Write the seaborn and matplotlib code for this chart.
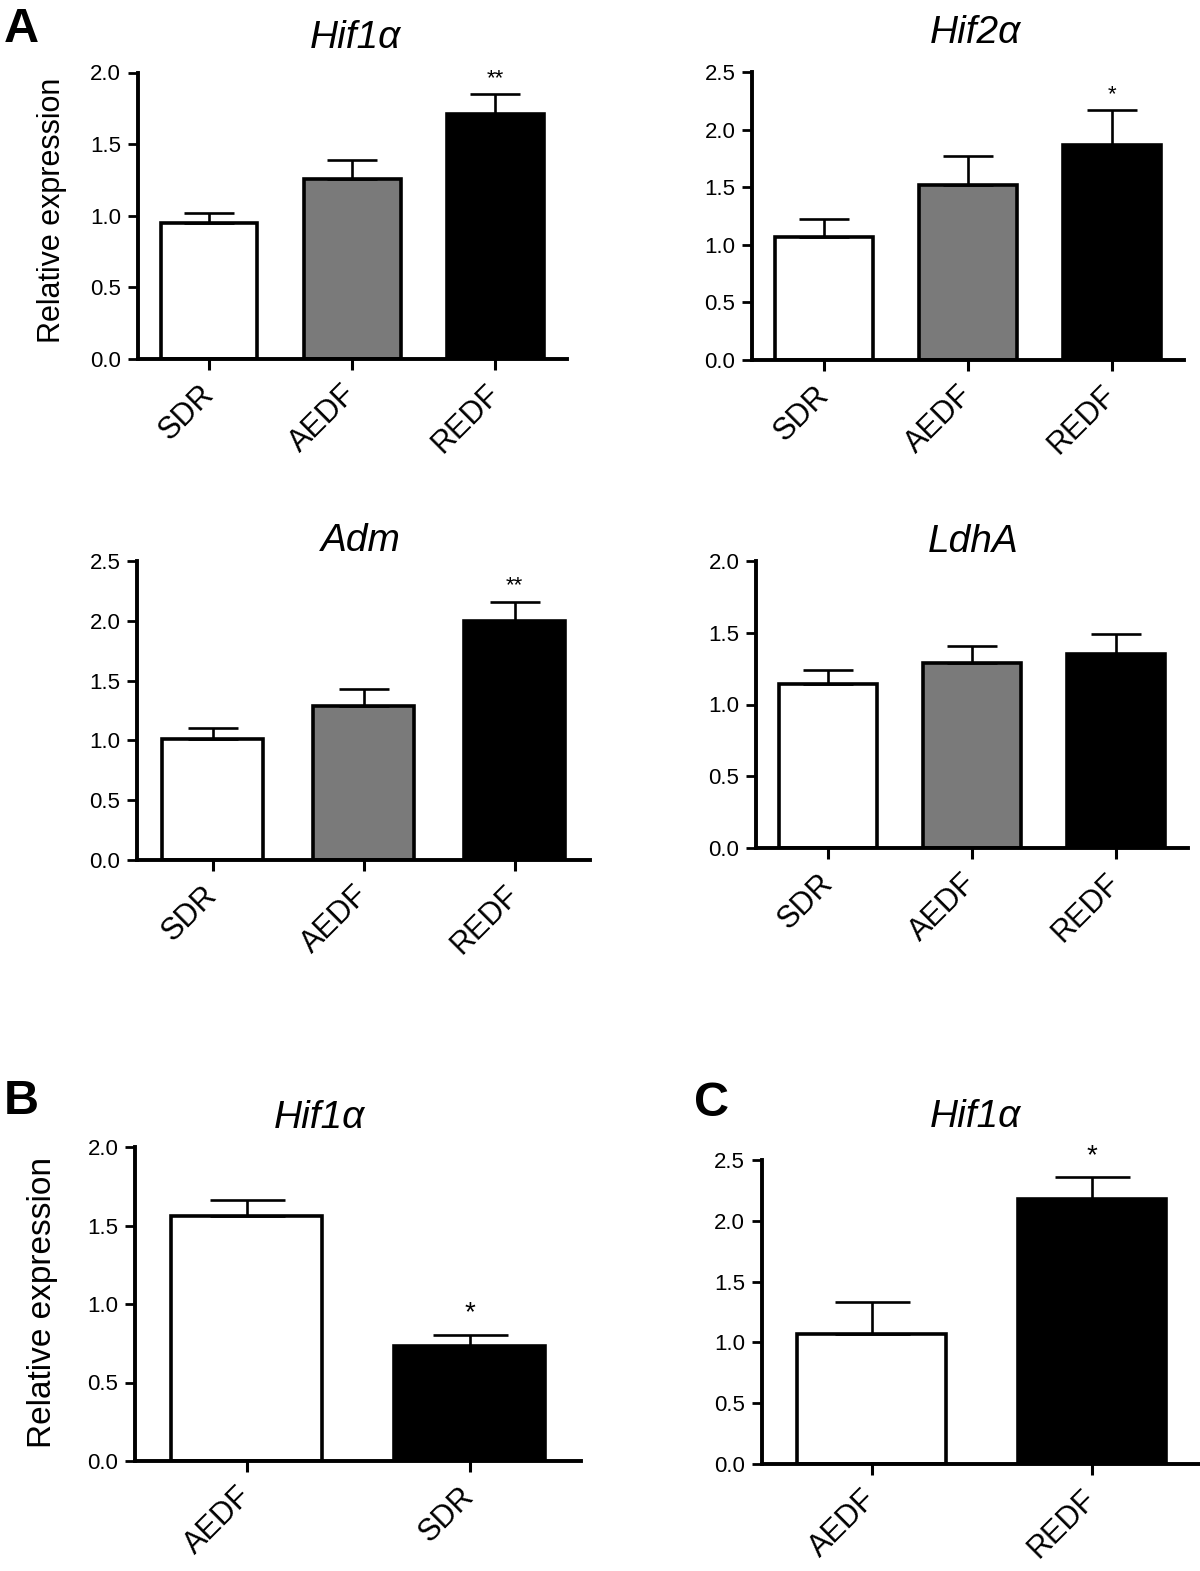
import numpy as np
import pandas as pd
import seaborn as sns
import matplotlib
matplotlib.use('Agg')
import matplotlib.pyplot as plt

# values (mean and upper SEM)
groups_a = ['SDR', 'AEDF', 'REDF']
hif1a_mean = [0.95, 1.26, 1.71]
hif1a_sem = [0.07, 0.13, 0.14]
hif2a_mean = [1.07, 1.52, 1.87]
hif2a_sem = [0.15, 0.25, 0.30]
adm_mean = [1.01, 1.29, 2.00]
adm_sem = [0.09, 0.14, 0.16]
ldha_mean = [1.14, 1.29, 1.35]
ldha_sem = [0.10, 0.12, 0.14]

groups_b = ['AEDF', 'SDR']
b_mean = [1.56, 0.73]
b_sem = [0.10, 0.07]

groups_c = ['AEDF', 'REDF']
c_mean = [1.07, 2.18]
c_sem = [0.26, 0.18]

yticks_2 = [0.0, 0.5, 1.0, 1.5, 2.0]
yticks_25 = [0.0, 0.5, 1.0, 1.5, 2.0, 2.5]

sns.set_style('ticks')
plt.rcParams['font.family'] = ['Liberation Sans', 'DejaVu Sans']
plt.rcParams['text.color'] = 'black'
plt.rcParams['xtick.color'] = 'black'
plt.rcParams['ytick.color'] = 'black'
plt.rcParams['axes.edgecolor'] = 'black'

W, H = 1200, 1571
fig = plt.figure(figsize=(W / 100, H / 100), dpi=100)


def px_axes(left, right, top, base):
    return fig.add_axes([left / W, 1 - base / H, (right - left) / W, (base - top) / H])


def panel(ax, groups, mean, sem, colors, yticks, cap):
    df = pd.DataFrame({'group': groups, 'value': mean})
    sns.barplot(data=df, x='group', y='value', hue='group', palette=colors,
                order=groups, hue_order=groups, saturation=1, width=0.675,
                edgecolor='black', linewidth=2.6, errorbar=None, legend=False, ax=ax)
    ax.errorbar(range(len(groups)), mean, yerr=[np.zeros(len(groups)), sem],
                fmt='none', ecolor='black', elinewidth=1.9, capsize=cap, capthick=1.9, zorder=5)
    ax.set_xlim(-0.5, len(groups) - 0.5)
    ax.set_ylim(0, yticks[-1])
    ax.set_yticks(yticks)
    ax.set_yticklabels([f'{t:.1f}' for t in yticks], fontsize=16)
    ax.set_xticks(range(len(groups)))
    ax.set_xticklabels(groups, fontsize=22, rotation=45, ha='right', va='center',
                       rotation_mode='anchor')
    ax.set_xlabel('')
    ax.set_ylabel('')
    for s in ['top', 'right']:
        ax.spines[s].set_visible(False)
    for s in ['left', 'bottom']:
        ax.spines[s].set_linewidth(2.8)
    ax.tick_params(axis='y', length=7, width=2, pad=5)
    ax.tick_params(axis='x', length=8, width=2.2, pad=14)


pal3 = {'SDR': 'white', 'AEDF': '#7a7a7a', 'REDF': 'black'}

ax1 = px_axes(137.5, 567, 72.5, 359)
panel(ax1, groups_a, hif1a_mean, hif1a_sem, pal3, yticks_2, 18)
ax1.text(2, 1.96, '**', ha='center', va='center', fontsize=16)

ax2 = px_axes(752, 1184, 72, 360)
panel(ax2, groups_a, hif2a_mean, hif2a_sem, pal3, yticks_25, 18)
ax2.text(2, 2.30, '*', ha='center', va='center', fontsize=16)

ax3 = px_axes(137, 590, 561, 860)
panel(ax3, groups_a, adm_mean, adm_sem, pal3, yticks_25, 18)
ax3.text(2, 2.29, '**', ha='center', va='center', fontsize=16)

ax4 = px_axes(756, 1188, 561, 848)
panel(ax4, groups_a, ldha_mean, ldha_sem, pal3, yticks_2, 18)

ax5 = px_axes(135, 581, 1147, 1461)
panel(ax5, groups_b, b_mean, b_sem, {'AEDF': 'white', 'SDR': 'black'}, yticks_2, 27)
ax5.text(1, 0.94, '*', ha='center', va='center', fontsize=20)

ax6 = px_axes(761.5, 1202, 1160, 1464)
panel(ax6, groups_c, c_mean, c_sem, {'AEDF': 'white', 'REDF': 'black'}, yticks_25, 27)
ax6.text(1, 2.53, '*', ha='center', va='center', fontsize=20)

# titles, in figure pixel positions
titles = [('Hif1\u03b1', 355, 38), ('Hif2\u03b1', 975, 33), ('Adm', 361, 541),
          ('LdhA', 973, 542), ('Hif1\u03b1', 319, 1118), ('Hif1\u03b1', 975, 1117)]
for t, x, y in titles:
    fig.text(x / W, 1 - y / H, t, ha='center', va='center', fontsize=28, style='italic')

for lab, x, y in [('A', 21, 30), ('B', 21, 1101), ('C', 711, 1103)]:
    fig.text(x / W, 1 - y / H, lab, ha='center', va='center', fontsize=35, fontweight='bold')

fig.text(52 / W, 1 - 210 / H, 'Relative expression', rotation=90, ha='center', va='center', fontsize=22)
fig.text(42 / W, 1 - 1303 / H, 'Relative expression', rotation=90, ha='center', va='center', fontsize=24)

fig.savefig('out.png', dpi=100, facecolor='white')
